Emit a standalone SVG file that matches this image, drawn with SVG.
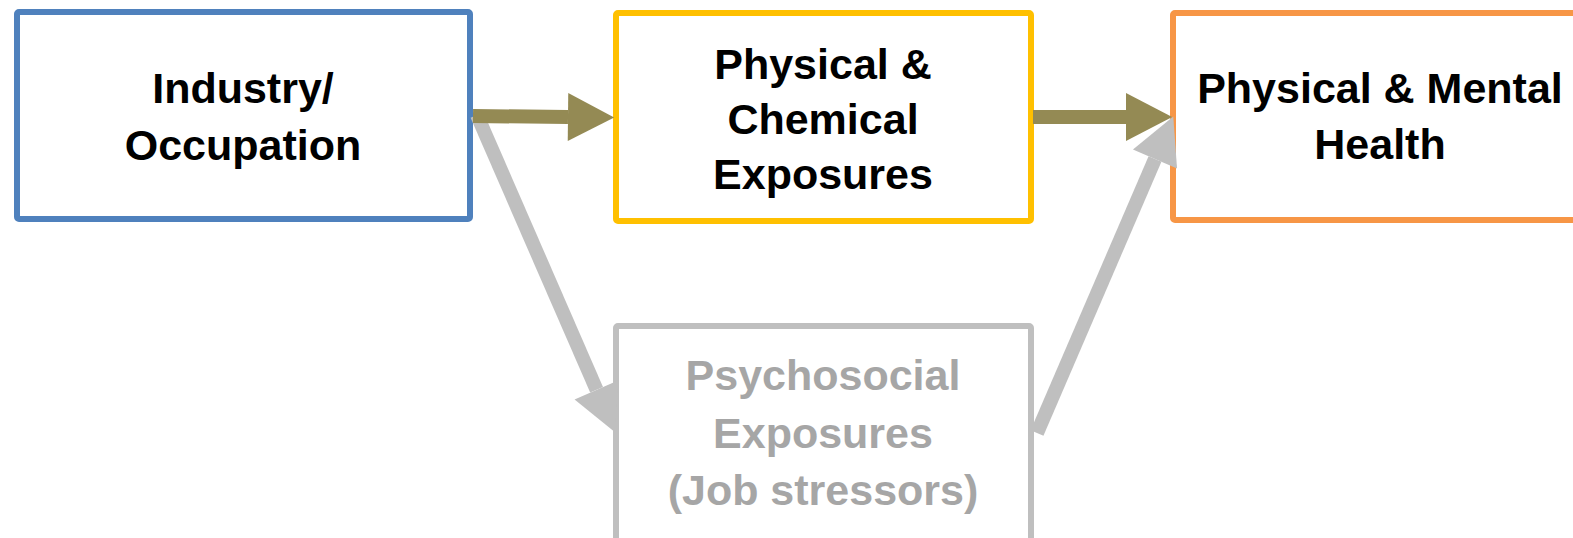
<svg xmlns="http://www.w3.org/2000/svg" width="1573" height="538" viewBox="0 0 1573 538">
<style>
.box{fill:#fff;stroke-width:6;stroke-linejoin:round}
.t{font-family:"Liberation Sans",Arial,sans-serif;font-weight:bold;font-size:43px;text-anchor:middle;fill:#000}
.g{fill:#A6A6A6}
.olive{stroke:#948A54;stroke-width:14;fill:none}
.grey{stroke:#BFBFBF;stroke-width:14;fill:none}
</style>
<defs>
<marker id="ho" markerUnits="strokeWidth" markerWidth="3.3" markerHeight="3.43" refX="0" refY="1.715" orient="auto" overflow="visible">
<path d="M0,0 L3.3,1.715 L0,3.43 Z" fill="#948A54"/>
</marker>
<marker id="hg" markerUnits="strokeWidth" markerWidth="3.3" markerHeight="3.43" refX="0" refY="1.715" orient="auto" overflow="visible">
<path d="M0,0 L3.3,1.715 L0,3.43 Z" fill="#BFBFBF"/>
</marker>
</defs>
<rect width="1573" height="538" fill="#fff"/>
<g id="n-industry">
<rect class="box" x="17" y="12" width="453" height="207" rx="2" stroke="#4F81BD"/>
<text class="t" x="243" y="103">Industry/</text>
<text class="t" x="243" y="160">Occupation</text>
</g>
<g id="n-physchem">
<rect class="box" x="616" y="13" width="415" height="208" rx="2" stroke="#FFC000"/>
<text class="t" x="823" y="79">Physical &amp;</text>
<text class="t" x="823" y="134">Chemical</text>
<text class="t" x="823" y="189">Exposures</text>
</g>
<g id="n-health">
<rect class="box" x="1173" y="13" width="420" height="207" rx="2" stroke="#F79646"/>
<text class="t" x="1380" y="103">Physical &amp; Mental</text>
<text class="t" x="1380" y="159">Health</text>
</g>
<g id="n-psycho">
<rect class="box" x="616" y="326" width="415" height="220" rx="2" stroke="#BFBFBF"/>
<text class="t g" x="823" y="390">Psychosocial</text>
<text class="t g" x="823" y="448">Exposures</text>
<text class="t g" x="823" y="505">(Job stressors)</text>
</g>
<g id="connectors">
<line class="grey" x1="477" y1="115" x2="596.6" y2="389.8" marker-end="url(#hg)"/>
<line class="grey" x1="1037" y1="433" x2="1155" y2="159" marker-end="url(#hg)"/>
<line class="olive" x1="473" y1="116" x2="568" y2="117" marker-end="url(#ho)"/>
<line class="olive" x1="1033" y1="117" x2="1126" y2="117" marker-end="url(#ho)"/>
</g>
</svg>
